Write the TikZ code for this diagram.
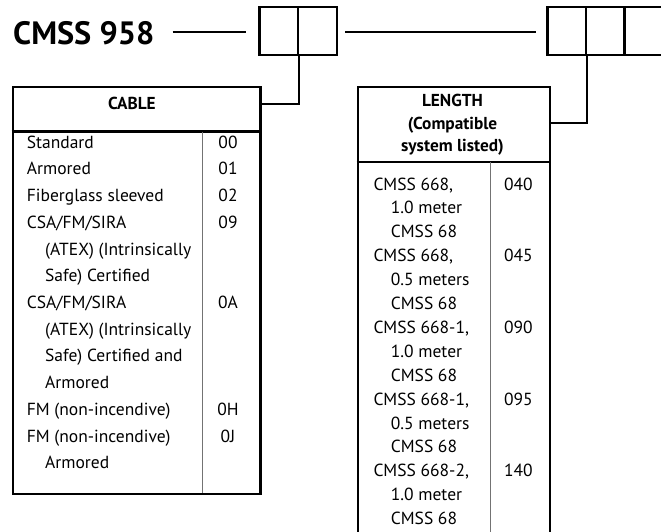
\documentclass[tikz,border=0pt]{standalone}
\usepackage{fontspec}
\setmainfont{PT Sans}
\begin{document}
\begin{tikzpicture}[x=1pt,y=-1pt,
  boxline/.style={line width=2.4pt},
  conn/.style={line width=1.8pt},
  divline/.style={line width=1pt,draw=black!55},
  cell/.style={draw,line width=2.4pt,minimum width=38.5pt,minimum height=48.3pt,inner sep=0pt},
  txt/.style={anchor=base west,inner sep=0pt,font=\fontsize{17.5}{20}\selectfont},
  code/.style={anchor=base,inner sep=0pt,font=\fontsize{17.5}{20}\selectfont},
  head/.style={anchor=base,inner sep=0pt,font=\bfseries\fontsize{17.3}{20}\selectfont},
]
\useasboundingbox (0,0) rectangle (661,532);
% title
\node[anchor=base west,inner sep=0pt,font=\bfseries\fontsize{32.3}{36}\selectfont] (title) at (13,44.3) {CMSS 958};
\coordinate (g1s) at (172.7,32.3);
\coordinate (g1e) at (245.7,32.3);
\coordinate (g2s) at (345.3,32.3);
\coordinate (g2e) at (535.7,32.3);
\draw[conn] (g1s) -- (g1e);
\draw[conn] (g2s) -- (g2e);
% code boxes
\node[cell] (b1a) at (278.8,30.9) {};
\node[cell] (b1b) at (317.5,30.9) {};
\node[cell] (b2a) at (566.9,30.9) {};
\node[cell] (b2b) at (605.2,30.9) {};
\node[cell] (b2c) at (643.5,30.9) {};
% cable table
\node[draw,boxline,anchor=north west,minimum width=247.6pt,minimum height=407pt,inner sep=0pt] (cable) at (11.7,85.7) {};
\draw[boxline] (11.7,131.7) -- (259.3,131.7);
\draw[divline] (202.7,131.7) -- (202.7,492.7);
\coordinate (k1) at (259.3,104);
\draw[conn] (b1a.south east) |- (k1);
% length table
\node[draw,boxline,anchor=north west,minimum width=192pt,minimum height=470pt,inner sep=0pt] (length) at (356.5,85.7) {};
\draw[boxline] (356.5,161.7) -- (548.5,161.7);
\draw[divline] (490,161.7) -- (490,560);
\coordinate (k2) at (548.5,122.7);
\draw[conn] (b2a.south east) |- (k2);
% cable header and body
\node[head] (cablehead) at (132,109.3) {CABLE};
\node[txt] (c0) at (26.7,148.3) {Standard};
\node[txt] (c1) at (26.7,175.0) {Armored};
\node[txt] (c2) at (26.7,201.7) {Fiberglass sleeved};
\node[txt] (c3) at (26.7,228.4) {CSA/FM/SIRA};
\node[txt] (c4) at (45,255.1) {(ATEX) (Intrinsically};
\node[txt] (c5) at (45,281.8) {Safe) Certified};
\node[txt] (c6) at (26.7,308.5) {CSA/FM/SIRA};
\node[txt] (c7) at (45,335.2) {(ATEX) (Intrinsically};
\node[txt] (c8) at (45,361.9) {Safe) Certified and};
\node[txt] (c9) at (45,388.6) {Armored};
\node[txt] (c10) at (26.7,415.3) {FM (non-incendive)};
\node[txt] (c11) at (26.7,442.0) {FM (non-incendive)};
\node[txt] (c12) at (45,468.7) {Armored};
\node[code] (d0) at (228,148.3) {00};
\node[code] (d1) at (228,175.0) {01};
\node[code] (d2) at (228,201.7) {02};
\node[code] (d3) at (228,228.4) {09};
\node[code] (d6) at (228,308.5) {0A};
\node[code] (d10) at (228,415.3) {0H};
\node[code] (d11) at (228,442.0) {0J};
% length header and body
\node[head] (lh1) at (452.5,107) {LENGTH};
\node[head] (lh2) at (452.5,129.5) {(Compatible};
\node[head] (lh3) at (452.5,152) {system listed)};
\node[txt] (l0) at (373.3,190) {CMSS 668,};
\node[txt] (l1) at (390.7,213.9) {1.0 meter};
\node[txt] (l2) at (390.7,237.8) {CMSS 68};
\node[txt] (l3) at (373.3,261.7) {CMSS 668,};
\node[txt] (l4) at (390.7,285.6) {0.5 meters};
\node[txt] (l5) at (390.7,309.5) {CMSS 68};
\node[txt] (l6) at (373.3,333.4) {CMSS 668-1,};
\node[txt] (l7) at (390.7,357.3) {1.0 meter};
\node[txt] (l8) at (390.7,381.2) {CMSS 68};
\node[txt] (l9) at (373.3,405.1) {CMSS 668-1,};
\node[txt] (l10) at (390.7,429) {0.5 meters};
\node[txt] (l11) at (390.7,452.9) {CMSS 68};
\node[txt] (l12) at (373.3,476.8) {CMSS 668-2,};
\node[txt] (l13) at (390.7,500.7) {1.0 meter};
\node[txt] (l14) at (390.7,524.6) {CMSS 68};
\node[code] (m0) at (518.3,190) {040};
\node[code] (m3) at (518.3,261.7) {045};
\node[code] (m6) at (518.3,333.4) {090};
\node[code] (m9) at (518.3,405.1) {095};
\node[code] (m12) at (518.3,476.8) {140};
\end{tikzpicture}
\end{document}
